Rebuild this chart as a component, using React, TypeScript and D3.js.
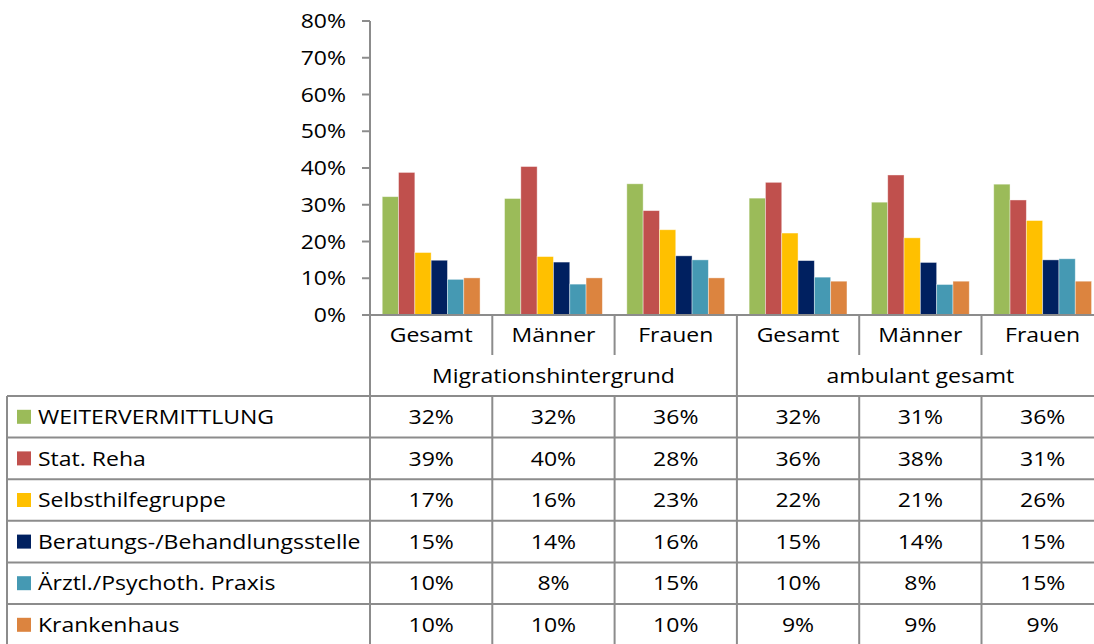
import * as d3 from "d3";
import { useEffect } from "react";

const groups = ["Migrationshintergrund", "ambulant gesamt"];
const categories = ["Gesamt", "Männer", "Frauen"];
const series = [
  "WEITERVERMITTLUNG",
  "Stat. Reha",
  "Selbsthilfegruppe",
  "Beratungs-/Behandlungsstelle",
  "Ärztl./Psychoth. Praxis",
  "Krankenhaus",
];
const colors = ["#9BBB59", "#C0504D", "#FFC000", "#002060", "#4599B3", "#DC843F"];

// one array per column: MH Gesamt, MH Männer, MH Frauen, amb Gesamt, amb Männer, amb Frauen
const weitervermittlung = [0.322, 0.317, 0.357, 0.318, 0.307, 0.356];
const statReha = [0.388, 0.404, 0.284, 0.361, 0.381, 0.313];
const selbsthilfe = [0.17, 0.159, 0.232, 0.223, 0.21, 0.257];
const beratung = [0.149, 0.144, 0.161, 0.148, 0.143, 0.15];
const praxis = [0.097, 0.084, 0.15, 0.103, 0.083, 0.153];
const krankenhaus = [0.101, 0.101, 0.101, 0.092, 0.092, 0.092];
const values = [weitervermittlung, statReha, selbsthilfe, beratung, praxis, krankenhaus];

const yTicks = [0, 0.1, 0.2, 0.3, 0.4, 0.5, 0.6, 0.7, 0.8];

const W = 1094;
const H = 644;
const font = "'Open Sans', Lato, sans-serif";
const grid = "#8C8C8C";
const stretch = 1.15; // the source picture is wider than Calibri's usual proportions

type LabelProps = { x: number; y: number; anchor?: "start" | "middle" | "end"; children: string };
const Label = ({ x, y, anchor = "start", children }: LabelProps) => (
  <text
    transform={`translate(${x},${y}) scale(${stretch},1)`}
    dy="0.36em"
    textAnchor={anchor}
    fontSize={20}
    fill="#000"
  >
    {children}
  </text>
);

export default function App() {
  useEffect(() => {
    document.body.style.margin = "0";
  }, []);

  const columns = groups.flatMap((g) => categories.map((c) => g + "|" + c));
  const left = 370;
  const step = 122.3;
  const right = left + step * columns.length;

  const y = d3.scaleLinear().domain([0, 0.8]).range([315, 21]);
  const x0 = d3.scaleBand().domain(columns).range([left, right]).paddingInner(0.2).paddingOuter(0.1);
  const x1 = d3.scaleBand().domain(series).range([0, x0.bandwidth()]);
  const colLeft = (i: number) => left + step * i;
  const fmt = d3.format(".0%");

  const tableTop = 396;
  const rowH = 41.6;
  const base = y(0);

  return (
    <svg width={W} height={H} style={{ display: "block" }} fontFamily={font}>
      <rect width={W} height={H} fill="#fff" />

      {/* bars */}
      {columns.map((col, ci) => (
        <g key={col} transform={`translate(${x0(col)},0)`}>
          {series.map((s, si) => (
            <rect
              key={s}
              x={x1(s)}
              y={y(values[si][ci])}
              width={x1.bandwidth()}
              height={base - y(values[si][ci])}
              fill={colors[si]}
              stroke="#ffffff"
              strokeOpacity={0.5}
              strokeWidth={0.8}
            />
          ))}
        </g>
      ))}

      {/* y axis */}
      <line x1={left} x2={left} y1={y(0.8)} y2={H} stroke={grid} strokeWidth={2} />
      {yTicks.map((t) => (
        <g key={t}>
          <line x1={left - 8} x2={left} y1={y(t)} y2={y(t)} stroke={grid} strokeWidth={2} />
          <Label x={346} y={y(t)} anchor="end">
            {fmt(t)}
          </Label>
        </g>
      ))}

      {/* category axis */}
      <line x1={left} x2={right} y1={base} y2={base} stroke={grid} strokeWidth={2} />
      {columns.map((col, ci) => (
        <g key={col}>
          <line
            x1={colLeft(ci + 1)}
            x2={colLeft(ci + 1)}
            y1={base}
            y2={(ci + 1) % categories.length === 0 ? tableTop : 355}
            stroke={grid}
            strokeWidth={2}
          />
          <Label x={colLeft(ci) + step / 2} y={335} anchor="middle">
            {categories[ci % categories.length]}
          </Label>
        </g>
      ))}
      {groups.map((g, gi) => (
        <Label
          key={g}
          x={colLeft(gi * categories.length) + (step * categories.length) / 2}
          y={376}
          anchor="middle"
        >
          {g}
        </Label>
      ))}

      {/* data table */}
      {series.map((s, si) => {
        const top = tableTop + rowH * si;
        return (
          <g key={s}>
            <rect x={17} y={top + rowH / 2 - 7} width={14} height={14} fill={colors[si]} />
            <Label x={38} y={top + rowH / 2}>
              {s}
            </Label>
            {columns.map((col, ci) => (
              <Label key={col} x={colLeft(ci) + step / 2} y={top + rowH / 2} anchor="middle">
                {fmt(values[si][ci])}
              </Label>
            ))}
          </g>
        );
      })}
      {d3.range(series.length + 1).map((i) => (
        <line
          key={i}
          x1={7}
          x2={right}
          y1={tableTop + rowH * i}
          y2={tableTop + rowH * i}
          stroke={grid}
          strokeWidth={2}
        />
      ))}
      <line x1={7} x2={7} y1={tableTop} y2={H} stroke={grid} strokeWidth={2} />
      {columns.map((col, ci) => (
        <line
          key={col}
          x1={colLeft(ci + 1)}
          x2={colLeft(ci + 1)}
          y1={tableTop}
          y2={H}
          stroke={grid}
          strokeWidth={2}
        />
      ))}
    </svg>
  );
}
